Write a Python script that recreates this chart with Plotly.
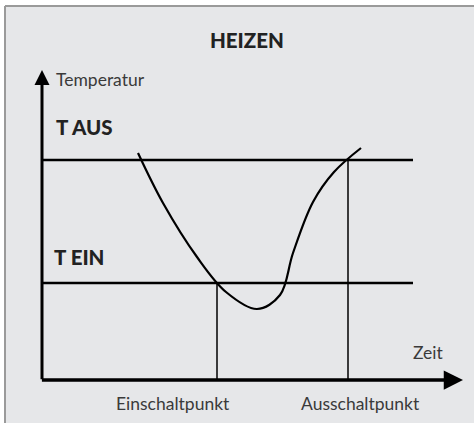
import plotly.graph_objects as go

# zeit / temperatur of the heating curve (diagram units)
zeit = [2.4, 3.025, 3.875, 4.6, 5.375, 5.95, 6.275, 6.775, 7.3, 7.975]
temperatur = [5.675, 4.425, 3.075, 2.2, 1.775, 2.125, 3.175, 4.45, 5.2, 5.8]

t_aus = 5.5
t_ein = 2.425
einschaltpunkt = 4.375
ausschaltpunkt = 7.65
zeit_max = 9.275

x_ende = 10.525
y_ende = 7.75

font_light = dict(family="Lato, Open Sans, sans-serif", size=17.5, color="#3a3a3a")
font_bold = dict(family="Lato, Open Sans, sans-serif", size=20.5, color="#222222", weight=900)

fig = go.Figure()

# horizontal thresholds
for t in [t_aus, t_ein]:
    fig.add_trace(go.Scatter(x=[0, zeit_max], y=[t, t], mode="lines",
                             line=dict(color="black", width=2.5), hoverinfo="skip"))

# switching points
fig.add_trace(go.Scatter(x=[einschaltpunkt, einschaltpunkt], y=[0, t_ein], mode="lines",
                         line=dict(color="black", width=1.5), hoverinfo="skip"))
fig.add_trace(go.Scatter(x=[ausschaltpunkt, ausschaltpunkt], y=[0, t_aus], mode="lines",
                         line=dict(color="black", width=1.5), hoverinfo="skip"))

# curve
fig.add_trace(go.Scatter(x=zeit, y=temperatur, mode="lines",
                         line=dict(color="black", width=2.2, shape="spline", smoothing=1.0),
                         hoverinfo="skip"))

# white margin top/left and the grey frame lines
fig.add_shape(type="rect", xref="paper", yref="paper", x0=0, x1=1, y0=1 - 6 / 423, y1=1,
              fillcolor="white", line_width=0, layer="below")
fig.add_shape(type="rect", xref="paper", yref="paper", x0=0, x1=5 / 474, y0=0, y1=1,
              fillcolor="white", line_width=0, layer="below")
fig.add_shape(type="line", xref="paper", yref="paper", x0=5 / 474, x1=1, y0=1 - 6 / 423, y1=1 - 6 / 423,
              line=dict(color="#9a9a9a", width=2), layer="below")
fig.add_shape(type="line", xref="paper", yref="paper", x0=5 / 474, x1=5 / 474, y0=0, y1=1 - 6 / 423,
              line=dict(color="#9a9a9a", width=2), layer="below")

# axes with arrows
fig.add_annotation(x=0, y=y_ende, ax=0, ay=-0.02, axref="x", ayref="y", text="",
                   showarrow=True, arrowhead=2, arrowsize=1.0, arrowwidth=3, arrowcolor="black")
fig.add_annotation(x=x_ende, y=0, ax=-0.04, ay=0, axref="x", ayref="y", text="",
                   showarrow=True, arrowhead=2, arrowsize=1.1, arrowwidth=3.5, arrowcolor="black")

labels = [
    dict(text="HEIZEN", x=5.125, y=8.5, xanchor="center", font=font_bold),
    dict(text="Temperatur", x=0.3, y=7.525, xanchor="left", font=font_light),
    dict(text="T AUS", x=0.3, y=6.325, xanchor="left", font=font_bold),
    dict(text="T EIN", x=0.25, y=3.075, xanchor="left", font=font_bold),
    dict(text="Zeit", x=9.65, y=0.7, xanchor="center", font=font_light),
    dict(text="Einschaltpunkt", x=3.275, y=-0.575, xanchor="center", font=font_light),
    dict(text="Ausschaltpunkt", x=7.95, y=-0.575, xanchor="center", font=font_light),
]
for lab in labels:
    fig.add_annotation(showarrow=False, yanchor="middle", **lab)

fig.update_layout(
    width=474, height=423,
    margin=dict(l=0, r=0, t=0, b=0),
    paper_bgcolor="#e6e7e9", plot_bgcolor="rgba(0,0,0,0)",
    showlegend=False,
    xaxis=dict(range=[-42 / 40, 432 / 40], visible=False, fixedrange=True),
    yaxis=dict(range=[-43 / 40, 380 / 40], visible=False, fixedrange=True),
)

fig.write_html("out.html", config={"displayModeBar": False},
               post_script="document.body.style.margin='0';document.body.style.overflow='hidden';"
                           "document.documentElement.style.overflow='hidden';")
